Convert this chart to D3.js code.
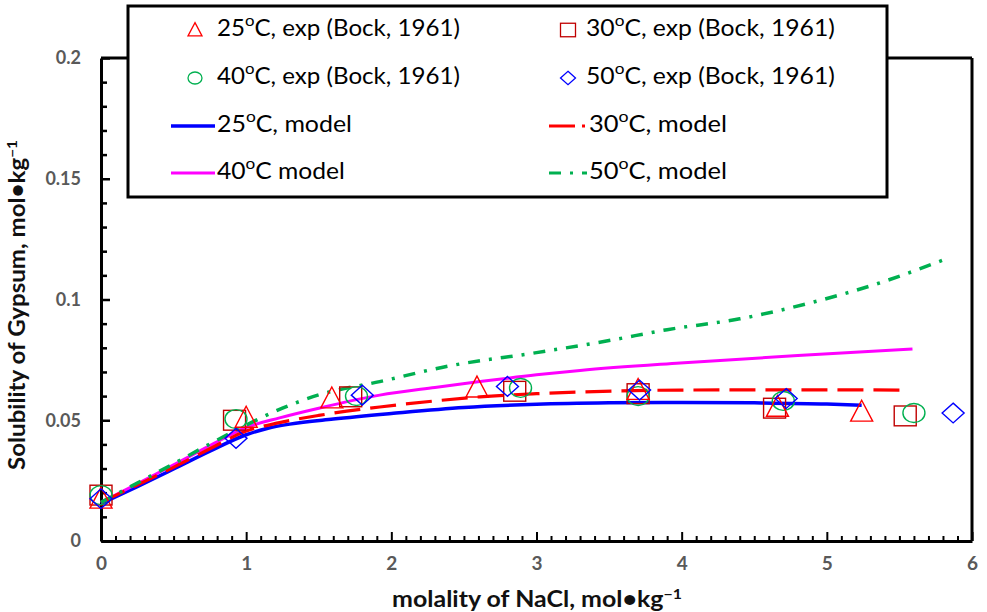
<!DOCTYPE html>
<html><head><meta charset="utf-8">
<script src="https://cdn.jsdelivr.net/npm/d3@7"></script>
<style>body{margin:0;background:#fff}svg{display:block}</style>
</head><body><svg id="c" width="987" height="612"></svg>
<script>
// ---- data ----
const xTickValues = [0,1,2,3,4,5,6];
const yTickValues = [0,0.05,0.1,0.15,0.2];
const yTickLabels = ["0","0.05","0.1","0.15","0.2"];

const exp25x = [0, 1.0, 1.59, 2.59, 3.70, 4.66, 5.24];
const exp25y = [0.0175, 0.0510, 0.0590, 0.0635, 0.0625, 0.0555, 0.0535];
const exp30x = [0, 0.92, 1.72, 2.85, 3.70, 4.64, 5.54];
const exp30y = [0.0190, 0.0500, 0.0597, 0.0620, 0.0610, 0.0550, 0.0518];
const exp40x = [0, 0.93, 1.76, 2.89, 3.70, 4.70, 5.60];
const exp40y = [0.0190, 0.0505, 0.0600, 0.0634, 0.0600, 0.0580, 0.0530];
const exp50x = [0, 0.93, 1.80, 2.80, 3.71, 4.72, 5.87];
const exp50y = [0.0175, 0.0425, 0.0604, 0.0640, 0.0625, 0.0590, 0.0530];

const mod25x = [0, 0.25, 0.5, 0.75, 1.0, 1.15, 1.3, 1.6, 2.0, 2.5, 3.0, 3.5, 4.0, 4.5, 5.0, 5.24];
const mod25y = [0.0155, 0.0225, 0.0298, 0.0372, 0.0440, 0.0467, 0.0484, 0.0505, 0.0528, 0.0553, 0.0566, 0.0572, 0.0574, 0.0572, 0.0567, 0.0562];
const mod30x = [0, 0.25, 0.5, 0.75, 1.0, 1.23, 1.5, 1.92, 2.3, 2.61, 3.0, 3.3, 3.99, 4.8, 5.55];
const mod30y = [0.0160, 0.0232, 0.0305, 0.0382, 0.0455, 0.0490, 0.0520, 0.0555, 0.0580, 0.0597, 0.0610, 0.0617, 0.0625, 0.0626, 0.0625];
const mod40x = [0, 0.25, 0.5, 0.75, 1.0, 1.23, 1.5, 1.92, 2.3, 2.61, 3.0, 3.3, 3.99, 4.8, 5.59];
const mod40y = [0.0160, 0.0237, 0.0315, 0.0395, 0.0470, 0.0510, 0.0550, 0.0604, 0.0636, 0.0660, 0.0688, 0.0706, 0.0737, 0.0768, 0.0795];
const mod50x = [0, 0.25, 0.5, 0.75, 1.0, 1.25, 1.5, 1.92, 2.4, 3.0, 3.5, 3.9, 4.4, 4.88, 5.37, 5.83];
const mod50y = [0.0160, 0.0240, 0.0320, 0.0402, 0.0480, 0.0550, 0.0605, 0.0660, 0.0725, 0.0780, 0.0830, 0.0875, 0.0920, 0.0985, 0.1070, 0.1170];

const legendLabels = ["25", "30", "40", "50"];

// ---- drawing ----
const svg = d3.select("#c");
const x = d3.scaleLinear().domain([0,6]).range([101,972]);
const y = d3.scaleLinear().domain([0,0.2]).range([541,58]);
const FONT = "Lato, 'Open Sans', sans-serif";

const C25 = "#ff0000", C30 = "#c00000", C40 = "#00b050", C50 = "#0000ff";
const L25 = "#0000ff", L30 = "#ff0000", L40 = "#ff00ff", L50 = "#00b050";

// squeeze a text element horizontally to a target width (Calibri-like narrow look)
function fitWidth(t, target, ox, oy, extra) {
  const w = t.node().getBBox().width;
  const s = target / w;
  t.attr("transform", `translate(${ox},${oy}) ${extra || ""} scale(${s},1)`);
}

// frame top & right
svg.append("line").attr("x1", x(0)).attr("x2", x(6)).attr("y1", y(0.2)).attr("y2", y(0.2))
  .attr("stroke","#000").attr("stroke-width",3);
svg.append("line").attr("x1", x(6)).attr("x2", x(6)).attr("y1", y(0.2)).attr("y2", y(0))
  .attr("stroke","#000").attr("stroke-width",3);

// x axis with inward ticks
const xMinor = d3.range(0, 61).map(i => i/10);
const gx = svg.append("g").attr("transform", `translate(0,${y(0)})`);
gx.call(d3.axisBottom(x).tickValues(xMinor).tickSizeInner(-5).tickSizeOuter(0).tickFormat(""));
gx.selectAll(".tick line").attr("stroke","#000").attr("stroke-width",2)
  .filter(d => Math.abs(d - Math.round(d)) < 1e-9).attr("y2", -9);
gx.select(".domain").attr("stroke","#000").attr("stroke-width",3);
const gxl = svg.append("g").attr("transform", `translate(0,${y(0)})`);
gxl.call(d3.axisBottom(x).tickValues(xTickValues).tickSize(0).tickPadding(16).tickFormat(d3.format("d")));
gxl.select(".domain").remove();
gxl.selectAll("text").attr("font-family",FONT).attr("font-weight","bold").attr("font-size",19).attr("fill","#595959");

// y axis with inward ticks
const yMinor = d3.range(0, 21).map(i => i/100);
const gy = svg.append("g").attr("transform", `translate(${x(0)},0)`);
gy.call(d3.axisLeft(y).tickValues(yMinor).tickSizeInner(-6).tickSizeOuter(0).tickFormat(""));
gy.selectAll(".tick line").attr("stroke","#000").attr("stroke-width",2.5)
  .filter(d => Math.abs(d*20 - Math.round(d*20)) < 1e-9).attr("x2", 9);
gy.select(".domain").attr("stroke","#000").attr("stroke-width",3);
const gyl = svg.append("g").attr("transform", `translate(${x(0)},0)`);
gyl.call(d3.axisLeft(y).tickValues(yTickValues).tickSize(0).tickPadding(20).tickFormat((d,i) => yTickLabels[i]));
gyl.select(".domain").remove();
gyl.selectAll("text").attr("font-family",FONT).attr("font-weight","bold").attr("font-size",18).attr("fill","#595959");

// axis titles
const xt = svg.append("text").attr("x", 0).attr("y", 0).attr("text-anchor","middle")
  .attr("font-family",FONT).attr("font-weight","bold").attr("font-size",22).attr("fill","#111");
xt.append("tspan").text("molality of NaCl, mol•kg");
xt.append("tspan").attr("dy",-8).attr("font-size",14).text("−1");
fitWidth(xt, 290, 537, 607);
const yt = svg.append("text").attr("x",0).attr("y",0).attr("text-anchor","middle")
  .attr("font-family",FONT).attr("font-weight","bold").attr("font-size",22).attr("fill","#111");
yt.append("tspan").text("Solubility of Gypsum, mol•kg");
yt.append("tspan").attr("dy",-8).attr("font-size",14).text("−1");
fitWidth(yt, 330, 25, 305, "rotate(-90)");

// model lines
const zip = (xs, ys) => xs.map((v,i) => [v, ys[i]]);
const line = d3.line().x(d => x(d[0])).y(d => y(d[1])).curve(d3.curveMonotoneX);
const models = [
  {xs: mod25x, ys: mod25y, color: L25, w: 3.5, dash: null},
  {xs: mod40x, ys: mod40y, color: L40, w: 3, dash: null},
  {xs: mod30x, ys: mod30y, color: L30, w: 3.2, dash: "26,10"},
  {xs: mod50x, ys: mod50y, color: L50, w: 3.5, dash: "12,9,3,9"}
];
models.forEach(m => {
  svg.append("path").datum(zip(m.xs, m.ys)).attr("d", line).attr("fill","none")
    .attr("stroke", m.color).attr("stroke-width", m.w).attr("stroke-dasharray", m.dash);
});

// markers
function marker(g, type, cx, cy, s, color, sw) {
  const h = s/2;
  if (type === "tri") {
    g.append("path").attr("d", `M${cx},${cy-h*1.05}L${cx+h},${cy+h*0.85}L${cx-h},${cy+h*0.85}Z`)
      .attr("fill","none").attr("stroke",color).attr("stroke-width",sw);
  } else if (type === "sq") {
    g.append("rect").attr("x",cx-h).attr("y",cy-h*0.9).attr("width",s).attr("height",s*0.9)
      .attr("fill","none").attr("stroke",color).attr("stroke-width",sw);
  } else if (type === "circ") {
    g.append("ellipse").attr("cx",cx).attr("cy",cy).attr("rx",h).attr("ry",h*0.86)
      .attr("fill","none").attr("stroke",color).attr("stroke-width",sw);
  } else {
    g.append("path").attr("d", `M${cx},${cy-h*0.9}L${cx+h},${cy}L${cx},${cy+h*0.9}L${cx-h},${cy}Z`)
      .attr("fill","none").attr("stroke",color).attr("stroke-width",sw);
  }
}
const exps = [
  {xs: exp30x, ys: exp30y, type: "sq", color: C30},
  {xs: exp40x, ys: exp40y, type: "circ", color: C40},
  {xs: exp25x, ys: exp25y, type: "tri", color: C25},
  {xs: exp50x, ys: exp50y, type: "dia", color: C50}
];
const gm = svg.append("g");
exps.forEach(e => zip(e.xs, e.ys).forEach(d => marker(gm, e.type, x(d[0]), y(d[1]), 22, e.color, 1.4)));

// legend
const lg = svg.append("g");
lg.append("rect").attr("x",128).attr("y",6).attr("width",759).attr("height",191)
  .attr("fill","#fff").attr("stroke","#000").attr("stroke-width",3);
function legText(tx, ty, temp, suffix, target) {
  const t = lg.append("text").attr("x",0).attr("y",0).attr("font-family",FONT).attr("font-size",23)
    .attr("fill","#000").attr("dominant-baseline","middle");
  t.append("tspan").text(temp);
  t.append("tspan").attr("dy",-8).attr("font-size",16).text("o");
  t.append("tspan").attr("dy",8).text(suffix);
  fitWidth(t, target, tx, ty);
}
const rows = [30, 78, 126, 173];
const col1 = 195, col2 = 568;
marker(lg, "tri", col1, rows[0], 14, C25, 1.3);
legText(217, rows[0], legendLabels[0], "C, exp (Bock, 1961)", 243);
marker(lg, "sq", col2, rows[0], 15, C30, 1.3);
legText(586, rows[0], legendLabels[1], "C, exp (Bock, 1961)", 249);
marker(lg, "circ", col1, rows[1], 14, C40, 1.3);
legText(217, rows[1], legendLabels[2], "C, exp (Bock, 1961)", 243);
marker(lg, "dia", col2, rows[1], 15, C50, 1.3);
legText(586, rows[1], legendLabels[3], "C, exp (Bock, 1961)", 249);
lg.append("line").attr("x1",171).attr("x2",215).attr("y1",rows[2]).attr("y2",rows[2]).attr("stroke",L25).attr("stroke-width",3.5);
legText(217, rows[2], legendLabels[0], "C, model", 135);
lg.append("line").attr("x1",549).attr("x2",587).attr("y1",rows[2]).attr("y2",rows[2]).attr("stroke",L30).attr("stroke-width",3.2).attr("stroke-dasharray","26,7,3,5");
legText(589, rows[2], legendLabels[1], "C, model", 138);
lg.append("line").attr("x1",171).attr("x2",215).attr("y1",rows[3]).attr("y2",rows[3]).attr("stroke",L40).attr("stroke-width",3);
legText(217, rows[3], legendLabels[2], "C model", 128);
lg.append("line").attr("x1",549).attr("x2",587).attr("y1",rows[3]).attr("y2",rows[3]).attr("stroke",L50).attr("stroke-width",3.2).attr("stroke-dasharray","12,9,3,9");
legText(589, rows[3], legendLabels[3], "C, model", 138);
</script></body></html>
